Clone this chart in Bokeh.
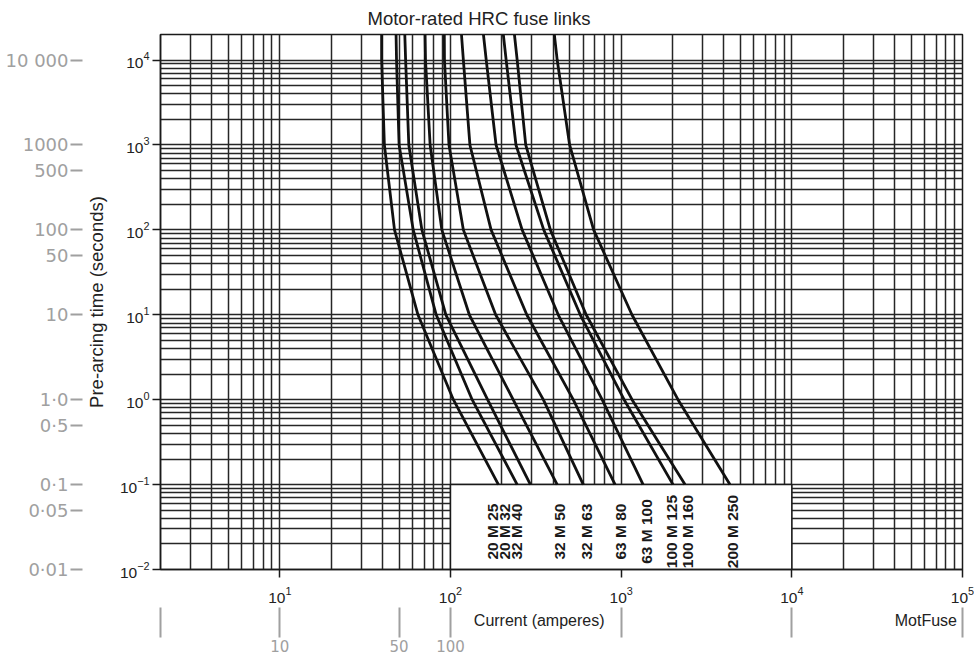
import numpy as np
from bokeh.plotting import figure
from bokeh.models import FixedTicker, LinearAxis, CustomJSTickFormatter
from bokeh.core.properties import value
from bokeh.embed import file_html
from bokeh.resources import INLINE

# ---- data ----
TITLE = "Motor-rated HRC fuse links"
TIMES = [20000, 10000, 1000, 100, 10, 1, 0.1]          # pre-arcing time (s)
FUSE_LABELS = ["20 M 25", "20 M 32", "32 M 40", "32 M 50", "32 M 63",
               "63 M 80", "63 M 100", "100 M 125", "100 M 160", "200 M 250"]
I_M25 = [39.5, 39.5, 41, 47, 64.5, 104, 191]
I_M32 = [48, 48.3, 50, 60.5, 82.5, 134, 246]
I_M40 = [54, 54.6, 57, 68, 94, 165, 294]
I_M50 = [71, 71.4, 76, 89, 129, 233, 422]
I_M63 = [92, 92.2, 98, 119, 184, 350, 600]
I_M80 = [116, 119, 130, 173, 280, 524, 922]
I_M100 = [156, 162, 185, 263, 428, 774, 1345]
I_M125 = [204, 212, 242, 352, 576, 1041, 2014]
I_M160 = [237, 246, 276, 385, 624, 1159, 2367]
I_M250 = [406, 422, 499, 690, 1157, 2154, 4339]
CURVES = [I_M25, I_M32, I_M40, I_M50, I_M63, I_M80, I_M100, I_M125, I_M160, I_M250]
LABEL_CURRENT = [176, 207, 243, 434, 624, 990, 1400, 1960, 2460, 4500]
LABEL_TIME = 0.028

X_MAJOR = [10, 100, 1000, 10000, 100000]
Y_MAJOR = [0.01, 0.1, 1, 10, 100, 1000, 10000]
BOX_X = (100, 10000)
BOX_Y = (0.01, 0.1)

# bottom text row: axis title and source tag
XTEXT_AT = [331, 61000]
XTEXT = ["Current (amperes)", "MotFuse"]
# hand-written pencil notes on the scan
HAND_Y_VALS = [10000, 1000, 500, 100, 50, 10, 1, 0.5, 0.1, 0.05, 0.01]
HAND_Y_TEXT = ["10 000", "1000", "500", "100", "50", "10", "1\u00b70", "0\u00b75", "0\u00b71", "0\u00b705", "0\u00b701"]
HAND_X_VALS = [10, 50, 100]
HAND_X_TEXT = ["10", "50", "100"]
HAND_X_STROKES = [2, 10, 50, 100, 1000, 10000, 100000]


def minors(lo_exp, hi_exp):
    return [m * 10.0 ** e for e in range(lo_exp, hi_exp) for m in range(2, 10)]


def fmt(vals, labs):
    return CustomJSTickFormatter(
        args=dict(vals=list(vals), labs=list(labs)),
        code="for (let i = 0; i < vals.length; i++) {"
             " if (Math.abs(vals[i] - tick) <= 1e-6 * Math.abs(vals[i])) return labs[i]; }"
             " return '';")


FONT = "Liberation Sans"
INK = "#1a1a1a"
TXT = "#222222"
PENCIL = "#a0a0a0"

p = figure(width=974, height=654, x_axis_type="log", y_axis_type="log",
           x_range=(2, 1e5), y_range=(0.01, 2e4), title=TITLE,
           output_backend="svg", toolbar_location=None,
           min_border_left=160, min_border_right=12, min_border_top=34, min_border_bottom=82)
p.background_fill_color = "white"
p.border_fill_color = "white"
p.outline_line_color = INK
p.outline_line_width = 1.5

p.title.align = "left"
p.title.offset = 207
p.title.standoff = 11
p.title.text_font = FONT
p.title.text_font_size = "18.5px"
p.title.text_font_style = "normal"
p.title.text_color = TXT

p.xaxis.ticker = FixedTicker(ticks=X_MAJOR, minor_ticks=minors(0, 5))
p.yaxis.ticker = FixedTicker(ticks=Y_MAJOR, minor_ticks=minors(-2, 5))
for ax in (p.xaxis, p.yaxis):
    ax.axis_line_color = INK
    ax.axis_line_width = 1.5
    ax.major_tick_out = 8
    ax.major_tick_in = 0
    ax.minor_tick_out = 0
    ax.minor_tick_in = 0
    ax.major_tick_line_color = INK
    ax.major_tick_line_width = 1.5
    ax.major_label_text_font = FONT
    ax.major_label_text_font_size = "15.5px"
    ax.major_label_text_color = TXT
p.xaxis.major_label_standoff = 9
p.yaxis.major_label_standoff = 3
p.yaxis.axis_label = "Pre-arcing time (seconds)"
p.yaxis.axis_label_standoff = 10
p.yaxis.axis_label_text_font = FONT
p.yaxis.axis_label_text_font_size = "18.5px"
p.yaxis.axis_label_text_font_style = "normal"
p.yaxis.axis_label_text_color = TXT

for g in (p.xgrid, p.ygrid):
    g.grid_line_color = "#262626"
    g.grid_line_width = 1.5
    g.minor_grid_line_color = "#262626"
    g.minor_grid_line_width = 1.5

# pencil notes on the left
hand_y = LinearAxis(ticker=FixedTicker(ticks=HAND_Y_VALS, minor_ticks=[]),
                    formatter=fmt(HAND_Y_VALS, HAND_Y_TEXT))
hand_y.axis_line_color = None
hand_y.major_tick_out = 12
hand_y.major_tick_in = 0
hand_y.major_tick_line_color = PENCIL
hand_y.major_tick_line_width = 2
hand_y.minor_tick_out = 0
hand_y.minor_tick_in = 0
hand_y.major_label_standoff = 2
hand_y.major_label_text_font = "DejaVu Sans"
hand_y.major_label_text_font_size = "18px"
hand_y.major_label_text_color = PENCIL
p.add_layout(hand_y, "left")

# bottom text row
xtext = LinearAxis(ticker=FixedTicker(ticks=XTEXT_AT, minor_ticks=[]), formatter=fmt(XTEXT_AT, XTEXT))
xtext.axis_line_color = None
xtext.major_tick_out = 0
xtext.major_tick_in = 0
xtext.minor_tick_out = 0
xtext.minor_tick_in = 0
xtext.major_label_standoff = 6
xtext.major_label_text_font = FONT
xtext.major_label_text_font_size = "16px"
xtext.major_label_text_color = TXT
p.add_layout(xtext, "below")

# pencil notes at the bottom
hand_x = LinearAxis(ticker=FixedTicker(ticks=HAND_X_VALS, minor_ticks=HAND_X_STROKES),
                    formatter=fmt(HAND_X_VALS, HAND_X_TEXT))
hand_x.axis_line_color = None
hand_x.major_tick_out = 0
hand_x.major_tick_in = 0
hand_x.minor_tick_in = 24
hand_x.minor_tick_out = 6
hand_x.minor_tick_line_color = PENCIL
hand_x.minor_tick_line_width = 2
hand_x.major_label_standoff = 2
hand_x.major_label_text_font = "DejaVu Sans"
hand_x.major_label_text_font_size = "15px"
hand_x.major_label_text_color = PENCIL
p.add_layout(hand_x, "below")

# white label box over the lower grid
p.quad(left=[BOX_X[0]], right=[BOX_X[1]], bottom=[BOX_Y[0]], top=[BOX_Y[1]],
       fill_color="white", line_color=INK, line_width=1.5)

for cur in CURVES:
    p.line(cur, TIMES, line_color="#111111", line_width=2.8, line_join="round")

p.text(x=LABEL_CURRENT, y=[LABEL_TIME] * len(LABEL_CURRENT), text=FUSE_LABELS,
       angle=np.pi / 2, text_align="center", text_baseline="middle",
       text_font=value(FONT), text_font_style="bold",
       text_font_size="15.5px", text_color=INK)

open("out.html", "w").write(file_html(p, INLINE))
